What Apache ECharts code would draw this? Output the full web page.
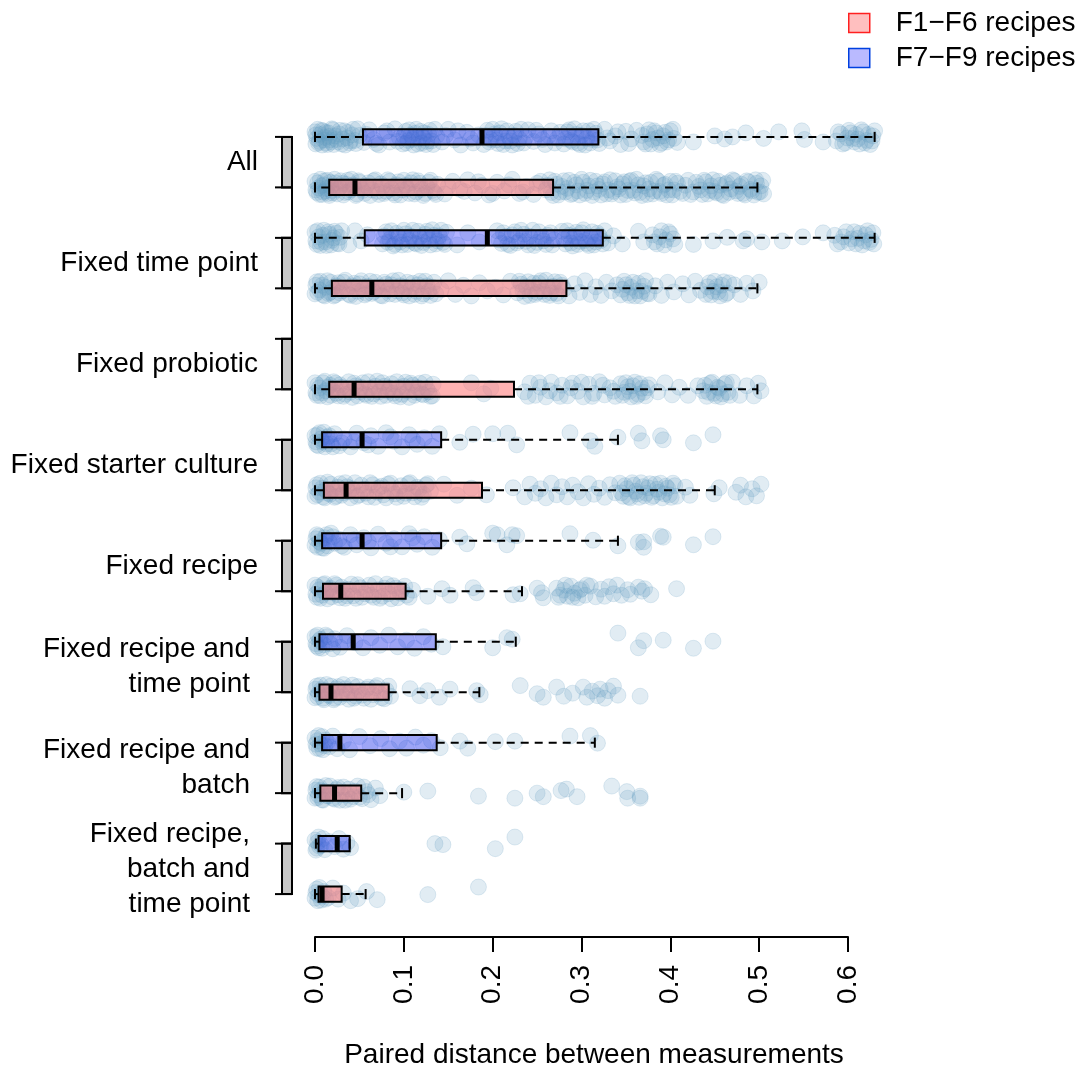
<!DOCTYPE html>
<html>
<head>
<meta charset="utf-8">
<script src="https://cdn.jsdelivr.net/npm/echarts@6/dist/echarts.min.js"></script>
<style>html,body{margin:0;padding:0;background:#fff;}#chart{width:1077px;height:1066px;}</style>
</head>
<body>
<div id="chart"></div>
<script>
// ---------- DATA ----------
const groupLabels = ["All", "Fixed time point", "Fixed probiotic", "Fixed starter culture", "Fixed recipe",
  "Fixed recipe and\ntime point", "Fixed recipe and\nbatch", "Fixed recipe,\nbatch and\ntime point"];
const seriesNames = ["F1\u2212F6 recipes", "F7\u2212F9 recipes"];
const tickLabels = ["0.0", "0.1", "0.2", "0.3", "0.4", "0.5", "0.6"];

// box stats per group: [lower whisker, Q1, median, Q3, upper whisker]
const statsF79 = [
  [0.000, 0.054, 0.188, 0.319, 0.630],
  [0.000, 0.056, 0.194, 0.324, 0.630],
  null,
  [0.000, 0.008, 0.053, 0.142, 0.341],
  [0.000, 0.008, 0.053, 0.142, 0.341],
  [0.000, 0.005, 0.043, 0.136, 0.226],
  [0.000, 0.008, 0.028, 0.137, 0.315],
  [0.001, 0.004, 0.025, 0.039, 0.039]
];
const statsF16 = [
  [0.000, 0.016, 0.045, 0.268, 0.498],
  [0.000, 0.019, 0.064, 0.283, 0.498],
  [0.000, 0.016, 0.044, 0.224, 0.498],
  [0.000, 0.010, 0.035, 0.188, 0.450],
  [0.000, 0.009, 0.029, 0.102, 0.233],
  [0.000, 0.005, 0.018, 0.083, 0.185],
  [0.000, 0.006, 0.022, 0.052, 0.098],
  [0.000, 0.004, 0.008, 0.030, 0.057]
];

// jittered points per row: [distance, vertical jitter in row units]
const ptsAllF79 = [[0.000,-0.10],[0.001,0.14],[0.002,0.03],[0.003,-0.15],[0.005,0.09],[0.006,-0.05],[0.008,0.16],[0.009,-0.12],[0.011,0.01],[0.013,0.12],[0.015,-0.08],[0.017,0.06],[0.019,-0.16],[0.021,0.15],[0.023,-0.02],[0.026,0.10],[0.028,-0.13],[0.031,0.04],[0.034,0.16],[0.037,-0.09],[0.040,0.08],[0.043,-0.15],[0.046,0.13],[0.050,-0.03],
[0.055,0.11],[0.061,-0.14],[0.066,0.05],[0.072,0.16],[0.078,-0.08],[0.084,0.10],[0.090,-0.16],[0.095,0.02],
[0.099,0.14],[0.102,-0.11],[0.105,0.07],[0.108,-0.04],[0.111,0.16],[0.114,-0.15],[0.117,0.03],[0.120,0.12],[0.123,-0.08],[0.126,0.09],[0.129,-0.13],[0.133,0.15],[0.137,-0.02],
[0.143,0.10],[0.150,-0.15],[0.157,0.06],[0.164,0.16],[0.171,-0.09],[0.178,0.12],[0.184,-0.04],
[0.190,0.15],[0.194,-0.13],[0.198,0.05],[0.202,-0.06],[0.206,0.13],[0.210,-0.16],[0.214,0.08],[0.218,-0.01],[0.222,0.16],[0.226,-0.11],[0.230,0.04],[0.235,0.12],[0.240,-0.14],
[0.246,0.09],[0.252,-0.06],[0.259,0.15],[0.266,-0.12],[0.273,0.03],
[0.280,0.14],[0.284,-0.10],[0.288,0.07],[0.292,-0.16],[0.296,0.12],[0.300,-0.03],[0.304,0.16],[0.308,-0.12],[0.312,0.05],[0.316,-0.07],[0.320,0.13],
[0.326,-0.15],[0.332,0.08],[0.338,-0.02],[0.344,0.15],[0.350,-0.11],[0.356,0.04],
[0.362,-0.13],[0.370,0.10],[0.374,-0.06],[0.378,0.14],[0.382,-0.12],[0.386,0.02],[0.390,0.12],[0.394,-0.09],[0.398,0.06],[0.403,-0.15],[0.408,0.11],
[0.426,0.10],[0.450,-0.02],[0.461,0.04],[0.470,0.00],[0.485,-0.08],[0.505,0.03],[0.522,-0.10],[0.548,-0.12],[0.551,0.05],[0.572,0.10],[0.587,0.08],[0.592,-0.06],[0.597,0.12],[0.601,-0.13],[0.605,0.03],[0.609,-0.05],[0.613,0.14],[0.617,-0.10],[0.621,0.07],[0.625,0.15],[0.628,-0.02],
[0.001,-0.04],[0.004,0.12],[0.007,-0.13],[0.010,0.06],[0.012,-0.09],[0.014,0.15],[0.016,-0.01],[0.018,0.10],[0.020,-0.14],[0.024,0.05],[0.027,-0.06],[0.030,0.14],[0.033,-0.12],[0.036,0.02],[0.039,0.12],[0.042,-0.04],[0.045,0.07],[0.048,-0.16],
[0.058,-0.05],[0.069,0.13],[0.081,-0.12],[0.093,0.09],
[0.100,-0.02],[0.103,0.12],[0.106,-0.14],[0.110,0.05],[0.113,-0.07],[0.116,0.14],[0.119,-0.11],[0.122,0.02],[0.125,0.15],[0.128,-0.05],[0.131,0.08],[0.135,-0.15],
[0.147,-0.03],[0.161,-0.12],[0.175,0.04],
[0.192,-0.03],[0.196,0.10],[0.200,-0.15],[0.204,0.06],[0.208,-0.08],[0.212,0.15],[0.216,-0.12],[0.220,0.08],[0.224,-0.03],[0.228,0.13],[0.232,-0.15],[0.237,0.01],
[0.249,-0.13],[0.256,0.05],[0.263,-0.02],[0.270,0.12],[0.276,-0.09],
[0.282,0.04],[0.286,-0.14],[0.290,0.10],[0.294,-0.05],[0.298,0.15],[0.302,-0.12],[0.306,0.03],[0.310,0.12],[0.314,-0.15],[0.318,0.06],
[0.329,0.02],[0.341,-0.10],[0.353,0.13],
[0.368,-0.03],[0.372,0.14],[0.376,-0.14],[0.380,0.05],[0.384,-0.08],[0.388,0.15],[0.392,-0.02],[0.396,0.10],[0.400,-0.12],[0.404,0.03],
[0.589,-0.10],[0.594,0.14],[0.599,0.02],[0.603,-0.08],[0.607,0.10],[0.611,0.04],[0.615,-0.14],[0.619,0.12],[0.623,-0.05],[0.627,0.08],[0.630,-0.12]];

const ptsAllF16 = [[0.000,-0.12],[0.002,0.10],[0.004,0.01],[0.006,-0.16],[0.008,0.14],[0.010,-0.05],[0.012,0.07],[0.014,-0.14],[0.016,0.16],[0.018,-0.02],[0.020,0.11],[0.023,-0.09],[0.026,0.04],[0.029,-0.13],[0.032,0.15],[0.035,-0.06],[0.038,0.09],[0.041,-0.16],[0.044,0.02],[0.047,0.13],[0.050,-0.10],[0.054,0.06],[0.058,-0.03],[0.062,0.16],[0.066,-0.13],[0.070,0.08],[0.074,-0.07],[0.078,0.12],[0.082,-0.15],[0.086,0.03],[0.090,0.15],[0.094,-0.11],[0.098,0.05],[0.102,-0.04],[0.106,0.12],[0.110,-0.15],[0.114,0.09],[0.118,-0.08],[0.122,0.16],[0.126,-0.01],[0.130,-0.14],[0.134,0.10],[0.138,-0.06],
[0.146,0.13],[0.155,-0.12],[0.163,0.04],[0.172,-0.15],[0.180,0.11],[0.188,-0.04],[0.196,0.15],[0.205,-0.10],[0.213,0.07],[0.222,-0.16],[0.230,0.12],[0.238,-0.02],[0.246,0.14],[0.254,-0.12],
[0.260,0.05],[0.264,-0.15],[0.268,0.16],[0.272,-0.06],[0.276,0.09],[0.280,-0.13],[0.284,0.02],[0.288,0.14],[0.292,-0.10],[0.296,0.07],[0.300,-0.16],[0.304,0.12],[0.308,-0.03],[0.312,0.16],[0.316,-0.12],[0.320,0.04],[0.324,-0.07],[0.328,0.13],[0.332,-0.15],[0.336,0.08],[0.340,-0.01],[0.344,0.15],[0.348,-0.11],[0.352,0.06],[0.356,-0.14],[0.360,0.11],[0.364,-0.05],[0.368,0.16],[0.372,-0.09],[0.376,0.03],[0.380,0.13],[0.384,-0.16],[0.388,0.08],[0.392,-0.04],[0.396,0.15],[0.400,-0.12],[0.404,0.05],[0.408,-0.08],[0.414,0.12],[0.420,-0.14],[0.426,0.09],[0.432,-0.02],[0.436,0.14],[0.440,-0.11],[0.444,0.06],[0.448,-0.15],[0.452,0.11],[0.456,-0.04],[0.460,0.16],[0.464,-0.09],[0.468,0.03],[0.472,-0.13],[0.476,0.12],[0.480,-0.06],[0.484,0.15],[0.488,-0.11],[0.492,0.07],[0.496,-0.15],[0.499,0.10],[0.502,-0.03],[0.505,0.13],
[0.001,0.05],[0.003,-0.09],[0.005,0.14],[0.007,-0.03],[0.009,0.09],[0.011,-0.13],[0.013,0.02],[0.015,0.12],[0.017,-0.10],[0.019,0.06],[0.022,-0.16],[0.025,0.13],[0.028,0.00],[0.031,-0.08],[0.034,0.10],[0.037,-0.14],[0.040,0.05],[0.043,-0.05],[0.046,0.16],[0.049,-0.13],[0.052,0.02],[0.056,0.12],[0.060,-0.09],[0.064,0.05],[0.068,-0.15],[0.072,0.14],[0.076,-0.02],[0.080,0.08],[0.084,-0.12],[0.088,0.11],[0.092,-0.05],[0.096,0.15],[0.100,-0.14],[0.104,0.03],[0.108,-0.09],[0.112,0.13],[0.116,-0.13],[0.120,0.04],[0.124,0.12],[0.128,-0.10],[0.132,0.06],[0.136,0.14],
[0.150,-0.02],[0.168,0.08],[0.184,-0.11],[0.200,0.12],[0.218,-0.05],[0.234,0.09],[0.250,-0.08],
[0.262,-0.04],[0.266,0.10],[0.270,-0.12],[0.274,0.15],[0.278,-0.02],[0.282,0.09],[0.286,-0.14],[0.290,0.12],[0.294,-0.05],[0.298,0.15],[0.302,-0.10],[0.306,0.06],[0.310,-0.14],[0.314,0.09],[0.318,-0.03],[0.322,0.15],[0.326,-0.11],[0.330,0.05],[0.334,0.13],[0.338,-0.13],[0.342,0.03],[0.346,-0.07],[0.350,0.14],[0.354,-0.12],[0.358,0.06],[0.362,-0.16],[0.366,0.10],[0.370,-0.03],[0.374,0.14],[0.378,-0.10],[0.382,0.07],[0.386,-0.13],[0.390,0.12],[0.394,-0.06],[0.398,0.05],[0.402,0.15],[0.406,-0.12],[0.411,0.08],[0.417,-0.04],[0.423,0.14],[0.429,-0.10],[0.434,0.05],[0.438,-0.14],[0.442,0.13],[0.446,-0.03],[0.450,0.08],[0.454,-0.12],[0.458,0.14],[0.462,-0.06],[0.466,0.10],[0.470,-0.15],[0.474,0.07],[0.478,-0.02],[0.482,0.12],[0.486,-0.13],[0.490,0.04],[0.494,0.15],[0.497,-0.08],[0.501,0.09],[0.504,-0.14]];

const ptsTimeF79 = [[0.000,-0.11],[0.002,0.13],[0.004,-0.02],[0.007,0.09],[0.010,-0.15],[0.013,0.15],[0.016,-0.07],[0.019,0.05],[0.022,-0.13],[0.025,0.11],[0.028,-0.01],
[0.038,0.14],[0.045,-0.14],[0.052,0.06],[0.059,-0.06],
[0.076,0.12],[0.080,-0.12],[0.084,0.03],[0.088,0.16],[0.092,-0.09],[0.096,0.08],[0.100,-0.15],[0.104,0.13],[0.108,-0.03],[0.112,0.10],[0.116,-0.13],[0.120,0.15],[0.124,-0.07],[0.128,0.04],[0.132,-0.16],[0.136,0.12],[0.140,-0.04],[0.144,0.09],[0.148,-0.11],
[0.160,0.14],[0.172,-0.10],[0.185,0.08],
[0.205,-0.14],[0.210,0.11],[0.215,-0.03],[0.220,0.15],[0.225,-0.12],[0.230,0.06],[0.235,-0.07],[0.240,0.14],[0.245,-0.15],[0.250,0.09],[0.255,-0.02],[0.260,0.13],[0.265,-0.10],[0.269,0.04],
[0.278,-0.13],[0.282,0.12],[0.286,-0.05],[0.290,0.16],[0.294,-0.11],[0.298,0.07],[0.302,-0.16],[0.306,0.11],[0.310,-0.02],[0.314,0.14],[0.318,-0.09],[0.322,0.05],[0.326,-0.14],
[0.330,0.10],[0.336,-0.04],[0.346,0.12],[0.364,-0.13],[0.370,0.08],[0.380,-0.06],[0.385,0.12],[0.390,-0.14],[0.395,0.04],[0.400,-0.08],[0.405,0.13],[0.426,0.13],[0.448,0.06],[0.464,-0.01],[0.482,0.06],[0.486,0.02],[0.503,0.08],[0.526,0.06],[0.549,-0.02],[0.572,-0.10],[0.585,-0.05],[0.592,0.08],[0.598,-0.12],[0.604,0.02],[0.609,0.12],[0.613,-0.09],[0.618,0.06],[0.622,-0.14],[0.626,0.03],[0.629,0.12],
[0.001,0.06],[0.003,-0.14],[0.006,0.15],[0.009,-0.05],[0.012,0.08],[0.015,-0.12],[0.018,0.14],[0.021,0.00],[0.024,-0.09],[0.027,0.12],[0.030,-0.14],
[0.078,-0.04],[0.082,0.09],[0.086,-0.14],[0.090,0.13],[0.094,-0.02],[0.098,0.14],[0.102,-0.08],[0.106,0.05],[0.110,-0.15],[0.114,0.12],[0.118,-0.01],[0.122,0.09],[0.126,-0.13],[0.130,0.14],[0.134,-0.05],[0.138,0.06],[0.142,-0.15],[0.146,0.13],
[0.207,0.04],[0.212,-0.10],[0.217,0.13],[0.222,-0.06],[0.227,0.10],[0.232,-0.15],[0.237,0.07],[0.242,-0.03],[0.247,0.15],[0.252,-0.12],[0.257,0.06],[0.262,-0.05],[0.267,0.14],
[0.280,0.03],[0.284,-0.14],[0.288,0.10],[0.292,-0.03],[0.296,0.13],[0.300,-0.10],[0.304,0.05],[0.308,0.15],[0.312,-0.12],[0.316,0.08],[0.320,-0.04],[0.324,0.12],
[0.382,0.08],[0.388,-0.02],[0.393,0.14],[0.398,-0.12],[0.403,0.02],
[0.588,0.12],[0.595,-0.02],[0.601,0.10],[0.607,-0.12],[0.611,0.01],[0.616,0.14],[0.620,-0.06],[0.624,0.09],[0.628,-0.10]];

const ptsTimeF16 = [[0.000,0.11],[0.002,-0.13],[0.005,0.03],[0.008,-0.06],[0.011,0.15],[0.014,-0.15],[0.017,0.08],[0.020,-0.01],[0.023,0.13],[0.026,-0.11],[0.030,0.05],[0.034,-0.16],[0.038,0.12],[0.042,-0.05],[0.046,0.16],[0.050,-0.09],[0.054,0.02],[0.058,0.10],[0.062,-0.14],[0.066,0.07],[0.070,-0.03],[0.074,0.14],[0.078,-0.12],[0.082,0.04],[0.086,-0.07],[0.090,0.12],[0.094,-0.16],[0.098,0.09],[0.102,-0.02],[0.106,0.15],[0.110,-0.10],[0.114,0.06],[0.118,-0.14],[0.122,0.11],[0.126,-0.05],[0.130,0.14],[0.134,-0.12],
[0.142,0.03],[0.150,-0.15],[0.158,0.12],[0.167,-0.06],[0.176,0.15],[0.185,-0.11],[0.194,0.05],[0.203,-0.02],[0.212,0.13],[0.220,-0.14],
[0.228,0.09],[0.232,-0.08],[0.236,0.16],[0.240,-0.13],[0.244,0.04],[0.248,0.12],[0.252,-0.10],[0.256,0.06],[0.260,-0.16],[0.264,0.14],[0.268,-0.04],[0.272,0.10],[0.276,-0.12],[0.280,0.02],
[0.286,0.15],[0.292,-0.09],[0.298,0.08],[0.304,-0.15],[0.310,0.12],[0.316,-0.03],[0.322,0.14],[0.328,-0.12],[0.334,0.05],[0.340,-0.07],
[0.344,0.13],[0.348,-0.14],[0.352,0.09],[0.356,-0.02],[0.360,0.15],[0.364,-0.10],[0.368,0.06],[0.372,-0.15],[0.376,0.11],
[0.383,-0.05],[0.390,0.14],[0.397,-0.12],[0.404,0.07],
[0.414,-0.09],[0.421,0.13],[0.428,-0.14],[0.434,0.04],
[0.440,0.12],[0.444,-0.11],[0.448,0.06],[0.452,-0.03],[0.456,0.15],[0.460,-0.13],[0.464,0.09],
[0.472,-0.07],[0.479,0.12],[0.486,-0.10],[0.493,0.05],[0.500,-0.12],
[0.001,-0.06],[0.003,0.08],[0.006,-0.14],[0.009,0.13],[0.012,-0.02],[0.015,0.10],[0.018,-0.12],[0.021,0.15],[0.024,-0.05],[0.028,0.09],[0.032,-0.12],[0.036,0.02],[0.040,0.14],[0.044,-0.10],[0.048,0.06],[0.052,-0.15],[0.056,0.13],[0.060,-0.04],[0.064,0.10],[0.068,-0.12],[0.072,0.03],[0.076,0.15],[0.080,-0.08],[0.084,0.11],[0.088,-0.15],[0.092,0.05],[0.096,-0.05],[0.100,0.13],[0.104,-0.12],[0.108,0.02],[0.112,0.12],[0.116,-0.07],[0.120,0.15],[0.124,-0.14],[0.128,0.06],[0.132,-0.02],[0.136,0.11],
[0.230,-0.14],[0.234,0.05],[0.238,-0.03],[0.242,0.14],[0.246,-0.10],[0.250,0.08],[0.254,-0.15],[0.258,0.12],[0.262,-0.02],[0.266,0.09],[0.270,-0.13],[0.274,0.15],[0.278,-0.06],
[0.346,0.02],[0.350,-0.07],[0.354,0.14],[0.358,-0.12],[0.362,0.05],[0.366,0.15],[0.370,-0.04],[0.374,0.10],
[0.442,-0.03],[0.446,0.13],[0.450,-0.14],[0.454,0.07],[0.458,-0.06],[0.462,0.12],[0.466,-0.11]];

const ptsProbF79 = [];

const ptsProbF16 = [[0.000,-0.13],[0.002,0.12],[0.005,-0.03],[0.008,0.07],[0.011,-0.16],[0.014,0.15],[0.017,-0.08],[0.020,0.03],[0.023,-0.12],[0.026,0.13],[0.030,-0.04],[0.034,0.10],[0.038,-0.15],[0.042,0.16],[0.046,-0.07],[0.050,0.05],[0.054,-0.13],[0.058,0.12],[0.062,-0.02],[0.066,0.09],[0.070,-0.16],[0.074,0.14],[0.078,-0.06],[0.082,0.04],[0.086,-0.11],[0.090,0.13],[0.094,-0.03],[0.098,0.10],[0.102,-0.14],[0.106,0.16],[0.110,-0.08],[0.114,0.06],[0.118,-0.12],[0.122,0.11],[0.126,-0.01],[0.130,0.14],[0.133,-0.10],
[0.176,-0.13],[0.190,0.09],[0.198,-0.02],
[0.236,0.05],[0.242,-0.12],[0.248,0.12],[0.254,-0.04],[0.260,0.15],[0.266,-0.14],[0.272,0.07],[0.278,-0.08],[0.284,0.13],[0.290,-0.12],[0.296,0.04],[0.302,0.15],[0.308,-0.10],[0.314,0.08],[0.320,-0.15],[0.326,0.11],[0.332,-0.03],[0.338,0.14],
[0.344,-0.11],[0.348,0.06],[0.352,-0.05],[0.356,0.15],[0.360,-0.14],[0.364,0.10],[0.368,-0.02],[0.372,0.13],[0.376,-0.09],
[0.386,0.05],[0.394,-0.13],[0.402,0.11],[0.410,-0.04],[0.420,0.12],[0.431,-0.07],
[0.437,0.03],[0.441,0.14],[0.445,-0.12],[0.449,0.08],[0.453,-0.04],[0.457,0.15],[0.461,-0.10],[0.465,0.06],[0.470,-0.14],
[0.478,0.12],[0.486,-0.07],[0.494,0.13],[0.499,-0.12],[0.502,0.03],
[0.001,0.07],[0.003,-0.08],[0.006,0.13],[0.009,-0.13],[0.012,0.03],[0.015,-0.04],[0.018,0.12],[0.021,-0.15],[0.024,0.08],[0.028,-0.09],[0.032,0.14],[0.036,-0.02],[0.040,0.06],[0.044,-0.12],[0.048,0.13],[0.052,-0.04],[0.056,0.09],[0.060,-0.15],[0.064,0.14],[0.068,-0.06],[0.072,0.05],[0.076,-0.13],[0.080,0.12],[0.084,-0.02],[0.088,0.08],[0.092,-0.15],[0.096,0.15],[0.100,-0.06],[0.104,0.04],[0.108,-0.12],[0.112,0.12],[0.116,-0.03],[0.120,0.09],[0.124,-0.14],[0.128,0.05],[0.132,0.13],
[0.240,0.14],[0.252,-0.13],[0.264,0.03],[0.276,0.14],[0.288,-0.03],[0.300,-0.14],[0.312,0.14],[0.324,-0.08],[0.336,0.04],
[0.346,0.12],[0.350,-0.13],[0.354,0.04],[0.358,-0.07],[0.362,0.14],[0.366,-0.11],[0.370,0.06],[0.374,-0.03],
[0.439,-0.08],[0.443,0.06],[0.447,-0.14],[0.451,0.13],[0.455,-0.02],[0.459,0.09],[0.463,-0.13],[0.467,0.12]];

const ptsStartF79 = [[0.000,-0.08],[0.002,0.10],[0.005,-0.14],[0.008,0.04],[0.011,0.14],[0.014,-0.05],[0.018,0.08],[0.022,-0.12],[0.027,0.12],[0.033,-0.02],[0.040,0.14],[0.047,-0.13],[0.055,0.06],[0.063,-0.08],[0.071,0.13],[0.080,-0.14],[0.089,0.03],[0.098,0.14],[0.106,-0.10],[0.115,0.09],[0.123,-0.04],[0.132,0.13],[0.140,-0.12],
[0.163,0.05],[0.178,-0.11],[0.200,-0.12],[0.217,-0.13],[0.227,0.10],[0.287,-0.14],[0.310,0.02],[0.315,0.13],[0.341,-0.05],[0.364,-0.13],[0.368,0.02],[0.389,-0.08],[0.392,0.00],[0.426,0.06],[0.448,-0.10],
[0.001,0.04],[0.003,-0.10],[0.004,0.12],[0.007,-0.02],[0.010,-0.15],[0.013,0.08],[0.016,-0.08],[0.020,0.14],[0.030,0.06],[0.044,0.04],[0.060,0.10],[0.085,-0.06],[0.110,0.00]];

const ptsStartF16 = [[0.000,0.12],[0.002,-0.11],[0.005,0.04],[0.008,-0.04],[0.011,0.15],[0.014,-0.16],[0.017,0.08],[0.020,-0.02],[0.024,0.12],[0.028,-0.13],[0.032,0.05],[0.036,-0.07],[0.040,0.15],[0.045,-0.15],[0.050,0.09],[0.055,-0.02],[0.060,0.13],[0.065,-0.11],[0.070,0.04],[0.075,-0.08],[0.080,0.15],[0.085,-0.14],[0.090,0.07],[0.095,-0.01],[0.100,0.12],[0.105,-0.13],[0.110,0.05],[0.115,-0.06],[0.120,0.14],[0.125,-0.10],[0.130,0.02],
[0.145,-0.12],[0.160,0.10],[0.176,-0.04],[0.193,0.09],[0.223,-0.05],
[0.236,0.13],[0.242,-0.12],[0.248,0.06],[0.254,-0.03],[0.260,0.15],[0.266,-0.14],[0.272,0.09],[0.278,-0.07],[0.284,0.13],[0.290,-0.10],[0.296,0.03],[0.302,0.15],[0.308,-0.13],[0.314,0.08],[0.320,-0.04],[0.326,0.14],[0.332,-0.11],[0.338,0.05],
[0.343,-0.14],[0.347,0.12],[0.351,-0.03],[0.355,0.15],[0.359,-0.10],[0.363,0.07],[0.367,-0.15],[0.371,0.11],[0.375,-0.05],[0.379,0.14],[0.383,-0.12],[0.387,0.04],[0.391,0.15],[0.395,-0.08],[0.399,0.09],[0.403,-0.14],[0.407,0.12],
[0.417,-0.06],[0.422,0.10],[0.449,0.07],[0.455,-0.05],
[0.474,0.04],[0.479,-0.10],[0.485,0.13],[0.492,-0.03],[0.497,0.11],[0.502,-0.12],
[0.001,-0.05],[0.003,0.09],[0.006,-0.14],[0.009,0.13],[0.012,-0.01],[0.015,0.06],[0.018,-0.12],[0.022,0.14],[0.026,-0.06],[0.030,0.10],[0.034,-0.15],[0.038,0.03],[0.042,-0.03],[0.047,0.12],[0.052,-0.10],[0.057,0.06],[0.062,-0.15],[0.067,0.14],[0.072,-0.05],[0.077,0.09],[0.082,-0.12],[0.087,0.02],[0.092,0.14],[0.097,-0.09],[0.102,0.06],[0.107,-0.15],[0.112,0.13],[0.117,-0.02],[0.122,0.08],[0.127,-0.13],
[0.345,0.05],[0.349,-0.09],[0.353,0.13],[0.357,-0.15],[0.361,0.02],[0.365,0.14],[0.369,-0.07],[0.373,0.06],[0.377,-0.13],[0.381,0.11],[0.385,-0.02],[0.389,-0.14],[0.393,0.07],[0.397,-0.04],[0.401,0.14],[0.405,-0.09]];

const ptsRecipeF79 = [[0.000,0.09],[0.002,-0.12],[0.005,0.02],[0.008,0.14],[0.011,-0.06],[0.014,0.10],[0.018,-0.15],[0.022,0.05],[0.027,-0.03],[0.033,0.13],[0.040,-0.12],[0.047,0.08],[0.055,-0.06],[0.063,0.14],[0.071,-0.13],[0.080,0.05],[0.089,-0.04],[0.098,0.12],[0.106,-0.14],[0.115,0.07],[0.123,-0.08],[0.132,0.13],[0.140,-0.02],
[0.163,-0.07],[0.171,0.06],[0.200,-0.15],[0.205,-0.12],[0.216,0.08],[0.222,-0.12],[0.227,-0.10],[0.287,-0.14],[0.313,-0.01],[0.341,0.10],[0.364,0.03],[0.370,0.02],[0.370,0.13],[0.389,-0.09],[0.392,-0.07],[0.426,0.08],[0.448,-0.08],
[0.001,-0.04],[0.003,0.13],[0.004,-0.09],[0.007,0.05],[0.010,0.15],[0.013,-0.12],[0.016,0.02],[0.020,-0.08],[0.030,0.10],[0.044,-0.02],[0.060,0.02],[0.085,0.12],[0.110,-0.06]];

const ptsRecipeF16 = [[0.000,-0.12],[0.002,0.12],[0.005,-0.03],[0.008,0.08],[0.011,-0.15],[0.014,0.15],[0.017,-0.06],[0.020,0.03],[0.024,-0.12],[0.028,0.13],[0.032,-0.02],[0.036,0.09],[0.041,-0.14],[0.046,0.14],[0.051,-0.07],[0.056,0.05],[0.061,-0.12],[0.066,0.12],[0.071,-0.03],[0.076,0.10],[0.081,-0.14],[0.086,0.15],[0.091,-0.06],[0.096,0.04],[0.101,-0.10],[0.106,0.12],
[0.110,-0.02],[0.127,0.10],[0.143,-0.05],[0.152,0.08],[0.178,-0.07],[0.182,0.03],[0.223,0.07],[0.231,0.05],[0.250,-0.06],[0.255,0.03],[0.257,0.13],
[0.272,-0.06],[0.276,0.08],[0.280,-0.02],[0.284,0.10],[0.288,-0.10],[0.292,0.04],[0.296,0.13],[0.300,-0.05],[0.304,0.08],
[0.310,-0.10],[0.316,0.11],[0.322,-0.04],[0.326,0.10],[0.331,-0.09],[0.336,0.05],[0.340,-0.12],
[0.345,0.08],[0.352,-0.03],[0.355,0.06],[0.364,-0.08],[0.368,0.00],[0.371,-0.05],[0.378,0.07],[0.407,-0.05],
[0.001,0.06],[0.003,-0.08],[0.006,0.14],[0.009,-0.13],[0.012,0.03],[0.016,-0.03],[0.019,0.11],[0.022,-0.15],[0.026,0.07],[0.030,-0.08],[0.034,0.14],[0.038,-0.04],[0.043,0.09],[0.048,-0.13],[0.053,0.12],[0.058,-0.02],[0.063,0.08],[0.068,-0.15],[0.073,0.14],[0.078,-0.06],[0.083,0.05],[0.088,-0.11],[0.093,0.13],[0.098,-0.03],[0.103,0.08],
[0.274,0.12],[0.282,-0.12],[0.290,0.12],[0.298,-0.02],[0.306,-0.12]];

const ptsRecTimeF79 = [[0.000,-0.10],[0.002,0.09],[0.005,-0.02],[0.008,0.13],[0.012,-0.13],[0.017,0.04],[0.022,-0.06],[0.028,0.11],[0.036,-0.12],[0.045,0.02],[0.054,0.12],[0.063,-0.08],[0.073,0.07],[0.083,-0.13],[0.093,0.10],[0.103,-0.03],[0.112,0.13],[0.122,-0.10],[0.131,0.05],
[0.144,0.10],[0.200,0.12],[0.216,-0.08],[0.222,-0.05],[0.341,-0.17],[0.364,0.12],[0.370,-0.02],[0.392,-0.03],[0.426,0.13],[0.448,-0.01],
[0.001,0.04],[0.003,-0.13],[0.004,0.12],[0.006,-0.05],[0.010,0.06],[0.014,-0.10],[0.020,0.14],[0.032,0.00]];

const ptsRecTimeF16 = [[0.000,0.11],[0.002,-0.12],[0.004,0.03],[0.007,-0.05],[0.010,0.15],[0.013,-0.15],[0.016,0.07],[0.019,-0.01],[0.022,0.12],[0.026,-0.11],[0.030,0.04],[0.034,-0.07],[0.038,0.14],[0.042,-0.14],[0.046,0.08],[0.050,-0.03],[0.055,0.12],[0.060,-0.10],[0.065,0.05],[0.070,-0.13],[0.075,0.11],[0.080,-0.04],[0.085,0.08],
[0.107,-0.07],[0.118,0.07],[0.127,-0.03],[0.140,0.10],[0.152,-0.06],[0.182,-0.03],[0.186,0.05],[0.231,-0.13],[0.250,0.03],[0.257,0.10],[0.272,-0.10],[0.280,0.08],[0.290,0.02],[0.302,-0.10],[0.306,0.10],[0.312,-0.02],[0.318,0.07],[0.321,-0.06],[0.326,0.12],[0.330,-0.03],[0.336,-0.12],[0.341,0.06],[0.366,0.08],
[0.001,-0.06],[0.003,0.09],[0.006,-0.14],[0.009,0.12],[0.012,-0.03],[0.015,0.05],[0.018,-0.12],[0.021,0.15],[0.024,-0.07],[0.028,0.10],[0.032,-0.15],[0.036,0.04],[0.040,-0.02],[0.044,0.12],[0.048,-0.11],[0.053,0.06],[0.058,-0.06],[0.063,0.14],[0.068,-0.09],[0.073,0.03],[0.078,0.13],[0.083,-0.12]];

const ptsRecBatchF79 = [[0.000,-0.09],[0.002,0.11],[0.004,-0.14],[0.006,0.03],[0.009,0.14],[0.012,-0.05],[0.016,0.08],[0.020,-0.13],[0.025,0.12],[0.032,-0.03],[0.039,0.14],[0.050,-0.12],[0.062,0.06],[0.074,-0.08],[0.084,0.12],[0.095,-0.03],[0.103,0.11],[0.113,-0.11],[0.122,0.05],[0.131,-0.04],
[0.141,0.10],[0.163,-0.03],[0.172,0.11],[0.203,-0.02],[0.225,-0.03],[0.287,-0.13],[0.310,-0.14],[0.318,0.01],
[0.001,0.03],[0.003,-0.04],[0.005,0.12],[0.008,-0.12],[0.011,0.06],[0.014,-0.01]];

const ptsRecBatchF16 = [[0.000,0.10],[0.002,-0.13],[0.004,0.04],[0.006,-0.05],[0.009,0.14],[0.012,-0.15],[0.015,0.06],[0.018,-0.02],[0.022,0.12],[0.026,-0.11],[0.030,0.03],[0.034,0.14],[0.038,-0.08],[0.043,0.07],[0.048,-0.14],[0.053,0.11],[0.058,-0.03],[0.063,0.13],[0.068,-0.10],[0.073,0.05],
[0.100,-0.02],[0.127,-0.04],[0.184,0.06],[0.225,0.10],[0.250,0.00],[0.257,0.07],[0.277,-0.05],[0.283,-0.08],[0.295,0.07],[0.334,-0.14],[0.351,-0.03],[0.352,0.10],[0.366,0.06],[0.366,0.10],
[0.001,-0.06],[0.003,0.09],[0.005,-0.12],[0.008,0.13],[0.011,-0.03],[0.014,0.05],[0.017,-0.14],[0.020,0.10],[0.024,-0.07],[0.028,0.14],[0.032,-0.12],[0.036,0.04],[0.040,0.12],[0.045,-0.04],[0.050,0.08],[0.055,-0.12],[0.060,0.03]];

const ptsRecBatchTimeF79 = [[0.000,-0.07],[0.002,0.09],[0.004,-0.13],[0.007,0.03],[0.011,0.12],[0.016,-0.04],[0.022,0.06],[0.027,-0.10],[0.032,0.11],[0.036,-0.02],[0.040,0.08],
[0.135,0.00],[0.144,0.02],[0.203,0.10],[0.225,-0.13],
[0.001,0.13],[0.003,-0.03],[0.005,0.05],[0.009,-0.10]];

const ptsRecBatchTimeF16 = [[0.000,0.08],[0.002,-0.10],[0.004,0.02],[0.007,0.12],[0.010,-0.05],[0.015,0.07],[0.020,-0.12],[0.026,0.10],[0.032,-0.02],[0.040,0.13],[0.048,0.09],[0.058,-0.05],[0.070,0.11],[0.127,0.01],[0.184,-0.14],
[0.001,-0.03],[0.003,0.13],[0.005,-0.13],[0.008,0.04],[0.012,0.10]];

const pointsF79 = [ptsAllF79, ptsTimeF79, ptsProbF79, ptsStartF79, ptsRecipeF79, ptsRecTimeF79, ptsRecBatchF79, ptsRecBatchTimeF79];
const pointsF16 = [ptsAllF16, ptsTimeF16, ptsProbF16, ptsStartF16, ptsRecipeF16, ptsRecTimeF16, ptsRecBatchF16, ptsRecBatchTimeF16];

// ---------- BUILD ----------
const FONT = "'Liberation Sans', Arial, Helvetica, sans-serif";
const FS = 28;
const rowF79 = g => 2 * g + 1;
const rowF16 = g => 2 * g + 2;

const scatterData = [];
groupLabels.forEach((_, g) => {
  pointsF79[g].forEach(p => scatterData.push([p[0], rowF79(g) + p[1]]));
  pointsF16[g].forEach(p => scatterData.push([p[0], rowF16(g) + p[1]]));
});
const boxF79 = [], boxF16 = [];
groupLabels.forEach((_, g) => {
  if (statsF79[g]) boxF79.push([rowF79(g)].concat(statsF79[g]));
  if (statsF16[g]) boxF16.push([rowF16(g)].concat(statsF16[g]));
});
const bracketData = groupLabels.map((_, g) => [rowF79(g), rowF16(g), g]);
const spineData = [[rowF79(0), rowF16(groupLabels.length - 1)]];

function renderBox(params, api) {
  const row = api.value(0);
  const lo = api.coord([api.value(1), row]);
  const q1 = api.coord([api.value(2), row]);
  const md = api.coord([api.value(3), row]);
  const q3 = api.coord([api.value(4), row]);
  const hi = api.coord([api.value(5), row]);
  const yc = q1[1];
  const half = Math.abs(api.size([0, 0.15])[1]);
  const cap = Math.abs(api.size([0, 0.1])[1]);
  const dash = { stroke: '#000', lineWidth: 2, lineDash: [8, 6] };
  const solid = { stroke: '#000', lineWidth: 2 };
  return { type: 'group', children: [
    { type: 'line', shape: { x1: q1[0], y1: yc, x2: lo[0], y2: yc }, style: dash },
    { type: 'line', shape: { x1: q3[0], y1: yc, x2: hi[0], y2: yc }, style: dash },
    { type: 'line', shape: { x1: lo[0], y1: yc - cap, x2: lo[0], y2: yc + cap }, style: solid },
    { type: 'line', shape: { x1: hi[0], y1: yc - cap, x2: hi[0], y2: yc + cap }, style: solid },
    { type: 'rect', shape: { x: q1[0], y: yc - half, width: q3[0] - q1[0], height: 2 * half },
      style: { fill: api.visual('color'), stroke: '#000', lineWidth: 2 } },
    { type: 'line', shape: { x1: md[0], y1: yc - half, x2: md[0], y2: yc + half }, style: { stroke: '#000', lineWidth: 5 } }
  ]};
}

function renderBracket(params, api) {
  const t = api.coord([0, api.value(0)]);
  const b = api.coord([0, api.value(1)]);
  const x0 = t[0];
  const label = groupLabels[api.value(2)];
  const multi = label.indexOf('\n') >= 0;
  return { type: 'group', children: [
    { type: 'rect', shape: { x: x0 - 33, y: t[1], width: 10, height: b[1] - t[1] },
      style: { fill: '#c6c6c6', stroke: '#000', lineWidth: 2 } },
    { type: 'line', shape: { x1: x0 - 40, y1: t[1], x2: x0 - 23, y2: t[1] }, style: { stroke: '#000', lineWidth: 2 } },
    { type: 'line', shape: { x1: x0 - 40, y1: b[1], x2: x0 - 23, y2: b[1] }, style: { stroke: '#000', lineWidth: 2 } },
    { type: 'text', style: { text: label, x: x0 - (multi ? 65 : 57), y: (t[1] + b[1]) / 2,
      fill: '#000', fontSize: FS, fontFamily: FONT, align: 'right', verticalAlign: 'middle', lineHeight: 35 } }
  ]};
}

function renderSpine(params, api) {
  const t = api.coord([0, api.value(0)]);
  const b = api.coord([0, api.value(1)]);
  return { type: 'line', shape: { x1: t[0] - 23, y1: t[1], x2: t[0] - 23, y2: b[1] },
    style: { stroke: '#000', lineWidth: 2 } };
}

const chart = echarts.init(document.getElementById('chart'), null, { renderer: 'canvas' });
chart.setOption({
  animation: false,
  backgroundColor: '#fff',
  textStyle: { fontFamily: FONT },
  grid: { left: 315, top: 94, width: 533, height: 843, containLabel: false, outerBoundsMode: 'none' },
  legend: {
    orient: 'vertical', left: 848, top: 9, padding: 0, itemWidth: 21, itemHeight: 19, itemGap: 7,
    textStyle: { fontSize: FS, color: '#000', fontFamily: FONT, padding: [0, 0, 0, 21] },
    data: [
      { name: seriesNames[0], icon: 'rect', itemStyle: { color: 'rgba(255,0,0,0.25)', borderColor: '#ff2020', borderWidth: 1.5 } },
      { name: seriesNames[1], icon: 'rect', itemStyle: { color: 'rgba(0,0,255,0.27)', borderColor: '#0040e0', borderWidth: 1.5 } }
    ]
  },
  xAxis: {
    type: 'value', min: 0, max: 0.6, interval: 0.1,
    axisLine: { show: true, onZero: false, lineStyle: { color: '#000', width: 2 } },
    axisTick: { show: true, length: 15, lineStyle: { color: '#000', width: 2 } },
    axisLabel: { rotate: 90, margin: 28, fontSize: FS, color: '#000', fontFamily: FONT,
      formatter: (v) => tickLabels[Math.round(v * 10)] },
    splitLine: { show: false },
    name: 'Paired distance between measurements', nameLocation: 'middle', nameGap: 104,
    nameTextStyle: { fontSize: FS, color: '#000', fontFamily: FONT, padding: [0, 0, 0, 25] }
  },
  yAxis: { type: 'value', inverse: true, min: 0.15, max: 16.85, show: false },
  series: [
    { type: 'scatter', name: 'points', data: scatterData, clip: false, symbol: 'circle', symbolSize: 16, z: 1,
      large: false, itemStyle: { color: 'rgba(100,155,195,0.24)', borderColor: 'rgba(100,155,195,0.24)', borderWidth: 1 },
      emphasis: { disabled: true }, silent: true },
    { type: 'custom', name: 'spine', data: spineData, renderItem: renderSpine, clip: false, silent: true, z: 3 },
    { type: 'custom', name: 'brackets', data: bracketData, renderItem: renderBracket, clip: false, silent: true, z: 3 },
    { type: 'custom', name: seriesNames[1], data: boxF79, renderItem: renderBox, clip: false, z: 5,
      itemStyle: { color: 'rgba(0,0,255,0.3)' }, silent: true },
    { type: 'custom', name: seriesNames[0], data: boxF16, renderItem: renderBox, clip: false, z: 5,
      itemStyle: { color: 'rgba(255,127,127,0.6)' }, silent: true }
  ]
});
</script>
</body>
</html>
